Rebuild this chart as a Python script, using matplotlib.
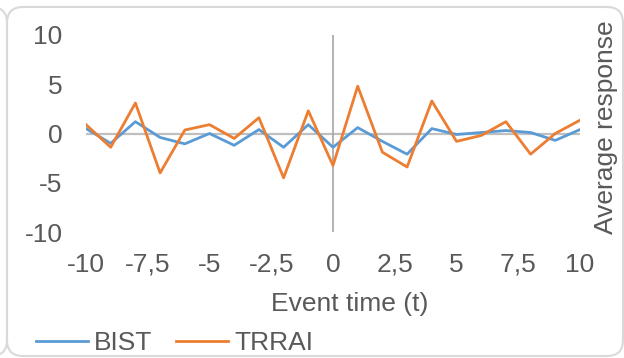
import matplotlib.pyplot as plt
from matplotlib.patches import FancyBboxPatch

plt.rcParams['font.family'] = ['Liberation Sans', 'DejaVu Sans']

event_time = list(range(-10, 11))
bist = [0.5, -1.0, 1.2, -0.4, -1.05, 0.0, -1.2, 0.4, -1.4, 0.9, -1.4,
        0.6, -0.8, -2.1, 0.5, -0.1, 0.1, 0.3, 0.1, -0.7, 0.4]
trrai = [0.9, -1.4, 3.1, -4.0, 0.35, 0.9, -0.5, 1.6, -4.5, 2.3, -3.25,
         4.8, -1.9, -3.4, 3.3, -0.8, -0.2, 1.2, -2.1, 0.0, 1.35]
xticks = [-10, -7.5, -5, -2.5, 0, 2.5, 5, 7.5, 10]
xtick_labels = ['-10', '-7,5', '-5', '-2,5', '0', '2,5', '5', '7,5', '10']
yticks = [-10, -5, 0, 5, 10]
ytick_labels = ['-10', '-5', '0', '5', '10']

W, H = 624, 358
fig = plt.figure(figsize=(W / 100, H / 100), dpi=100)
ax = fig.add_axes([86 / W, 1 - 232 / H, (580 - 86) / W, (232 - 35) / H])

txt = '#595959'
fs = 19
ax.plot(event_time, bist, color='#5B9BD5', lw=2.0, label='BIST', zorder=3)
ax.plot(event_time, trrai, color='#ED7D31', lw=2.0, label='TRRAI', zorder=3)
ax.axhline(0, color='#BFBFBF', lw=1.6, zorder=2)
ax.axvline(0, color='#A6A6A6', lw=1.2, zorder=2)

ax.set_xlim(-10, 10)
ax.set_ylim(-10, 10)
for s in ax.spines.values():
    s.set_visible(False)
ax.set_xticks(xticks)
ax.set_xticklabels(xtick_labels)
ax.set_yticks(yticks)
ax.set_yticklabels(ytick_labels)
ax.tick_params(axis='x', length=0, pad=15, labelsize=fs, labelcolor=txt)
ax.tick_params(axis='y', length=0, pad=17, labelsize=fs, labelcolor=txt)
ax.patch.set_alpha(0)

fig.text(350 / W, 1 - 304 / H, 'Event time (t)', ha='center', va='center',
         fontsize=fs, color=txt)
fig.text(606 / W, 1 - 127 / H, 'Average response', ha='center', va='center',
         rotation=90, fontsize=fs, color=txt)

ax.legend(loc='center left', bbox_to_anchor=(36 / W, 1 - 343 / H),
          bbox_transform=fig.transFigure, ncol=2, frameon=False,
          fontsize=fs, labelcolor=txt, handlelength=1.97, handletextpad=0.23,
          columnspacing=0.9, borderpad=0, borderaxespad=0)

# rounded chart borders (this chart and the edge of its neighbour)
fig.patches.append(FancyBboxPatch((7, 2), 616, 349, boxstyle='round,pad=0,rounding_size=16',
                                  transform=None, fill=False, ec='#D9D9D9', lw=1.5))
fig.patches.append(FancyBboxPatch((-200, 2), 207, 349, boxstyle='round,pad=0,rounding_size=16',
                                  transform=None, fill=False, ec='#D9D9D9', lw=1.5))

fig.savefig('out.png', dpi=100)
